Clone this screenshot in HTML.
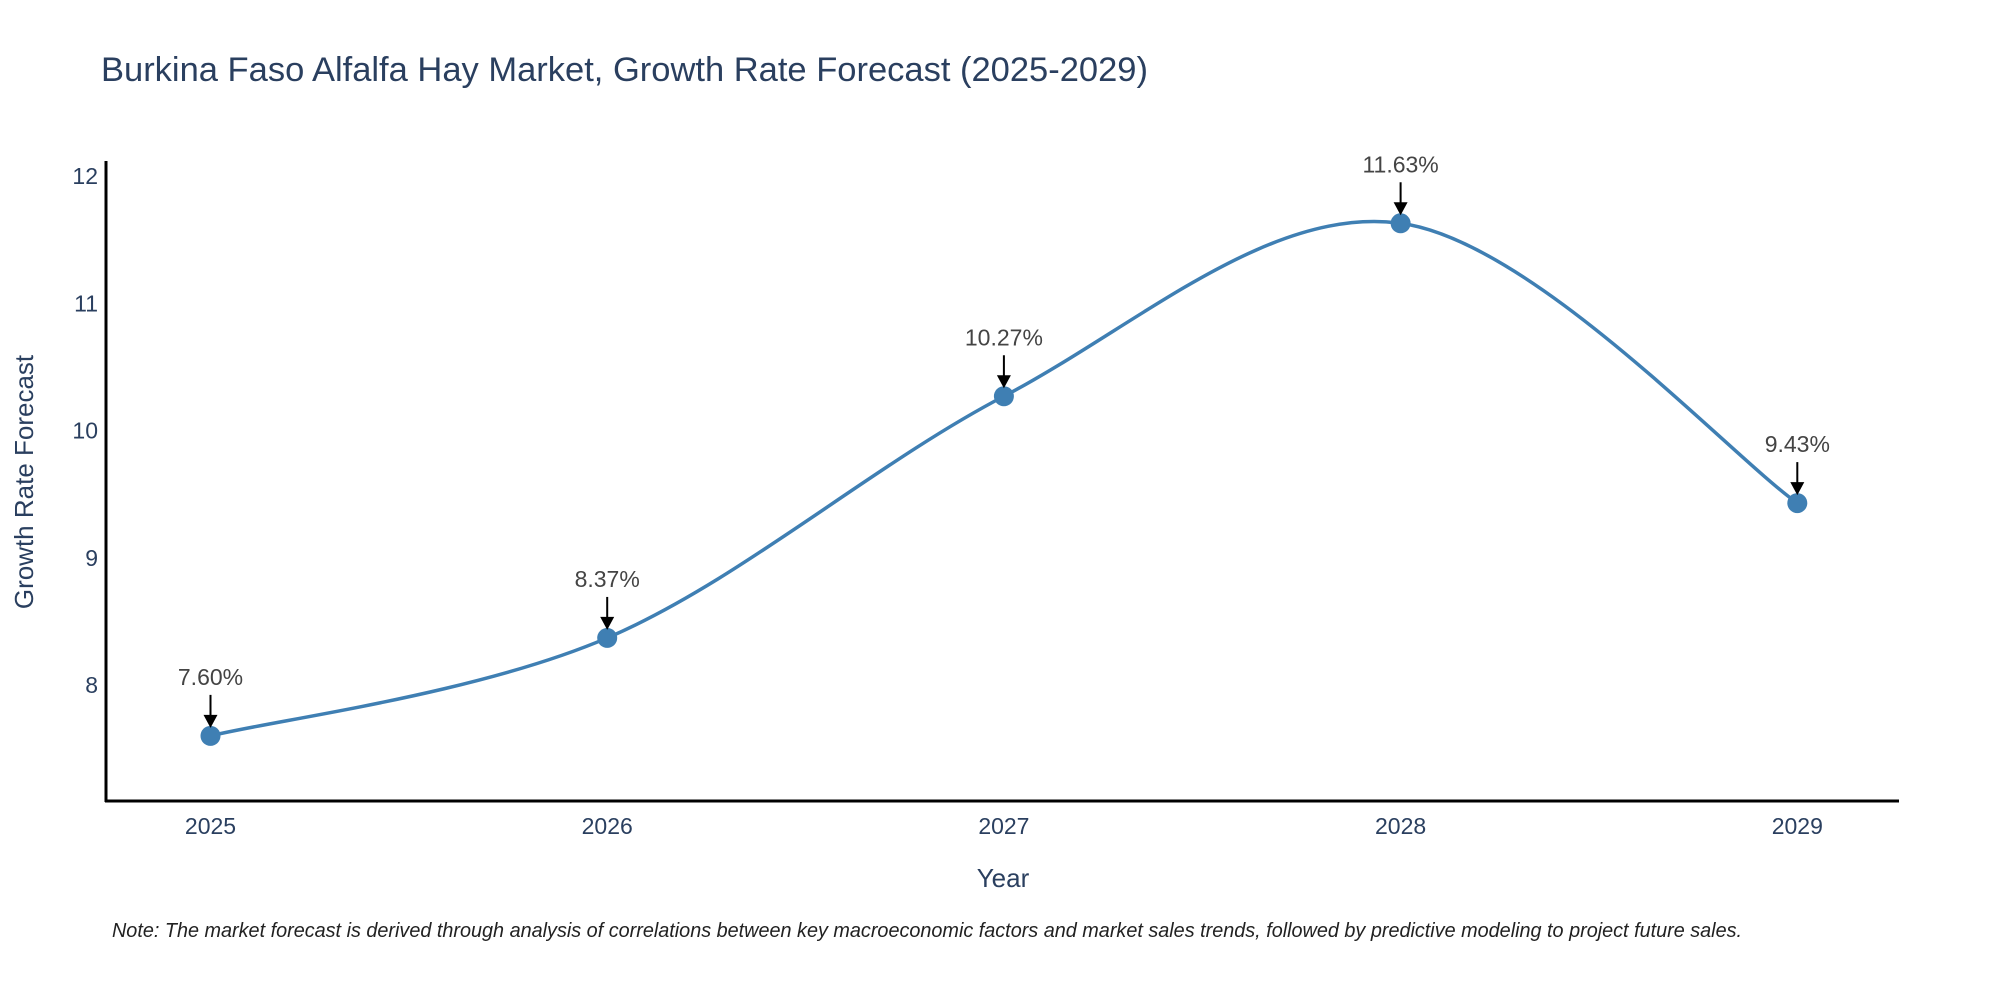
<!DOCTYPE html>
<html><head><meta charset="utf-8"><style>
html,body{margin:0;padding:0;background:#fff;}
svg{display:block;font-family:"Liberation Sans",sans-serif;}
</style></head><body>
<svg id="chart" width="2000" height="1000" viewBox="0 0 2000 1000">
<text x="101" y="81" font-size="34.5" fill="#2a3f5f">Burkina Faso Alfalfa Hay Market, Growth Rate Forecast (2025-2029)</text>
<g id="yticks"></g>
<g id="xticks"></g>
<line x1="106" y1="161" x2="106" y2="802" stroke="#000" stroke-width="3"/>
<line x1="105" y1="801" x2="1899" y2="801" stroke="#000" stroke-width="3"/>
<g id="series"></g>
<text x="1003" y="887" font-size="26" fill="#2a3f5f" text-anchor="middle">Year</text>
<text x="0" y="0" font-size="26" fill="#2a3f5f" text-anchor="middle" transform="translate(33,482) rotate(-90)">Growth Rate Forecast</text>
<text x="112" y="937" font-size="20" font-style="italic" fill="#222" textLength="1630" lengthAdjust="spacingAndGlyphs">Note: The market forecast is derived through analysis of correlations between key macroeconomic factors and market sales trends, followed by predictive modeling to project future sales.</text>
</svg>
<script>
const years = ["2025","2026","2027","2028","2029"];
const growth = [7.60, 8.37, 10.27, 11.63, 9.43];
const yTickValues = [8, 9, 10, 11, 12];

const NS = "http://www.w3.org/2000/svg";
function xs(i){ return 210.5 + i * 396.7; }
function ys(v){ return 685 - (v - 8) * 127.2; }
function mk(tag, attrs, parent){
  const e = document.createElementNS(NS, tag);
  for (const k in attrs) e.setAttribute(k, attrs[k]);
  parent.appendChild(e); return e;
}
const yt = document.getElementById("yticks");
yTickValues.forEach(v => {
  const t = mk("text", {x: 98, y: ys(v) + 8, "font-size": 23, fill: "#2a3f5f", "text-anchor": "end"}, yt);
  
  
  t.textContent = v;
});
const xt = document.getElementById("xticks");
years.forEach((y, i) => {
  const t = mk("text", {x: xs(i), y: 834, "font-size": 23, fill: "#2a3f5f", "text-anchor": "middle"}, xt);
  
  
  t.textContent = y;
});
const g = document.getElementById("series");
const pts = growth.map((v, i) => [xs(i), ys(v)]);
let d = "M" + pts[0][0] + "," + pts[0][1];
const s = 1/6;
for (let i = 0; i < pts.length - 1; i++) {
  const p0 = pts[Math.max(0, i - 1)], p1 = pts[i], p2 = pts[i + 1], p3 = pts[Math.min(pts.length - 1, i + 2)];
  const c1 = [p1[0] + (p2[0] - p0[0]) * s, p1[1] + (p2[1] - p0[1]) * s];
  const c2 = [p2[0] - (p3[0] - p1[0]) * s, p2[1] - (p3[1] - p1[1]) * s];
  d += " C" + c1 + " " + c2 + " " + p2;
}
const line = mk("path", {d: d, fill: "none", stroke: "#3f7fb3", "stroke-width": 3.5}, g);


growth.forEach((v, i) => {
  const cx = xs(i), cy = ys(v);
  const c = mk("circle", {cx: cx, cy: cy, r: 10, fill: "#3f7fb3"}, g);
  
  
  const a = mk("line", {x1: cx, y1: cy - 41, x2: cx, y2: cy - 20, stroke: "#000", "stroke-width": 2}, g);
  
  
  const h = mk("polygon", {points: (cx - 7) + "," + (cy - 21) + " " + (cx + 7) + "," + (cy - 21) + " " + cx + "," + (cy - 8), fill: "#000"}, g);
  
  
  const t = mk("text", {x: cx, y: cy - 51, "font-size": 23, fill: "#444", "text-anchor": "middle"}, g);
  
  
  t.textContent = v.toFixed(2) + "%";
});
</script>
</body></html>
